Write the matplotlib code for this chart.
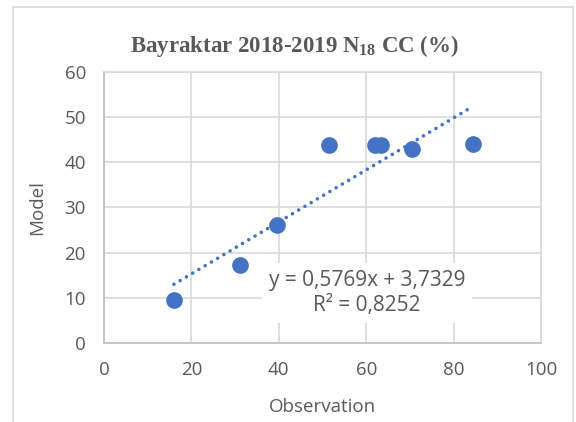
import numpy as np
import matplotlib
matplotlib.use("Agg")
import matplotlib.pyplot as plt
from matplotlib.patches import Rectangle

observation = [16.0, 31.1, 39.5, 51.4, 62.0, 63.3, 70.4, 84.4]
model = [9.5, 17.3, 26.2, 43.9, 43.9, 43.9, 43.0, 44.1]
x_ticks = [0, 20, 40, 60, 80, 100]
y_ticks = [0, 10, 20, 30, 40, 50, 60]
slope, intercept, r2 = 0.5769, 3.7329, 0.8252

grey = "#595959"
grid_col = "#D9D9D9"
blue = "#4472C4"
font = "Open Sans"

# bold serif for the subscript in the title
plt.rcParams["mathtext.fontset"] = "custom"
plt.rcParams["mathtext.rm"] = "Liberation Serif:bold"
plt.rcParams["mathtext.default"] = "rm"

fig = plt.figure(figsize=(5.76, 4.22), dpi=100)
# light frame around the whole chart area
fig.patches.append(Rectangle((13 / 576, -0.01), 560 / 576, 1 - 7 / 422 + 0.01,
                             transform=fig.transFigure, fill=False,
                             edgecolor=grid_col, linewidth=1.2))

ax = fig.add_axes([104 / 576, 1 - 342.7 / 422, 437 / 576, 270.4 / 422])
ax.set_xlim(0, 100)
ax.set_ylim(0, 60)
ax.set_xticks(x_ticks)
ax.set_yticks(y_ticks)
ax.grid(True, color=grid_col, linewidth=1.2)
ax.set_axisbelow(True)
for side in ["top", "right"]:
    ax.spines[side].set_color(grid_col)
for side in ["left", "bottom"]:
    ax.spines[side].set_color("#BFBFBF")
for s in ax.spines.values():
    s.set_linewidth(1.2)
ax.tick_params(length=0, labelsize=13.5, labelcolor=grey)
ax.tick_params(axis="y", pad=13)
ax.tick_params(axis="x", pad=13)
for lab in ax.get_xticklabels() + ax.get_yticklabels():
    lab.set_fontfamily(font)

# linear trendline over the data range
xt = np.array([min(observation), max(observation)])
ax.plot(xt, slope * xt + intercept, color=blue, linestyle=(0, (0.01, 2.0)),
        linewidth=2.6, dash_capstyle="round", zorder=2)
ax.plot(observation, model, "o", color=blue, markersize=11, zorder=3)

ax.text(60.2, 11.0, "y = 0,5769x + 3,7329\nR² = 0,8252", ha="center", va="center",
        fontsize=15, color=grey, family=font, linespacing=1.25,
        bbox=dict(facecolor="white", edgecolor="none", pad=5), zorder=4)

ax.set_xlabel("Observation", fontsize=13.5, color=grey, family=font)
ax.xaxis.set_label_coords(0.5, -(407 - 342.7) / 270.4)
ax.xaxis.label.set_va("center")
ax.set_ylabel("Model", fontsize=13.5, color=grey, family=font)
ax.yaxis.set_label_coords(-(104 - 37) / 437, 0.5)
ax.yaxis.label.set_va("center")

fig.text(0.5 * (127 + 462) / 576, 1 - 46 / 422,
         r"Bayraktar 2018-2019 N$_{18}$ CC (%)",
         ha="center", va="center", fontsize=16.5, fontweight="bold",
         color=grey, family="Liberation Serif")

fig.savefig("out.png", dpi=100)
